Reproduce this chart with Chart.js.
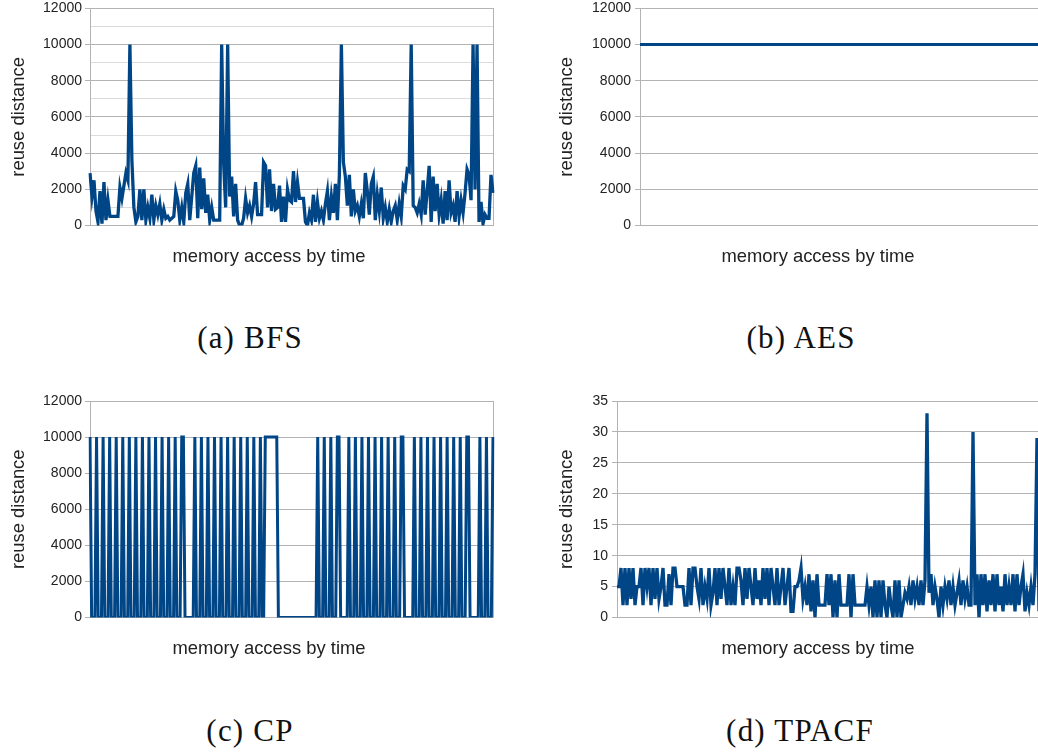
<!DOCTYPE html>
<html>
<head>
<meta charset="utf-8">
<script src="https://cdn.jsdelivr.net/npm/chart.js@4/dist/chart.umd.min.js"></script>
<style>
  html, body { margin: 0; padding: 0; background: #fff; overflow: hidden; width: 1038px; height: 753px; }
  canvas { position: absolute; }
  .caption {
    position: absolute; width: 300px; text-align: center;
    font-family: 'Liberation Serif', serif; font-size: 31px; letter-spacing: 1.2px;
    line-height: 36px; color: #111;
  }
</style>
</head>
<body>
<canvas id="bfs" width="538" height="280" style="left:0;top:0"></canvas>
<canvas id="aes" width="556" height="280" style="left:540px;top:0"></canvas>
<canvas id="cp" width="538" height="280" style="left:0;top:392px"></canvas>
<canvas id="tpacf" width="556" height="280" style="left:540px;top:392px"></canvas>
<div class="caption" style="left:100px;top:320px">(a) BFS</div>
<div class="caption" style="left:651px;top:320px">(b) AES</div>
<div class="caption" style="left:100px;top:713px">(c) CP</div>
<div class="caption" style="left:650px;top:713px">(d) TPACF</div>
<script>
// reuse distance per memory access
const bfsValues = [
  2900, 1600, 2500, 800, 200, 1900, 100, 2400, 300, 1400,
  500, 500, 500, 500, 500, 2100, 1500, 2200, 2900, 2500,
  10000, 3600, 1000, 200, 500, 2000, 300, 2000, 300, 1000,
  400, 1700, 300, 1100, 600, 1200, 300, 900, 400, 500,
  300, 400, 500, 1900, 1400, 300, 1000, 200, 1800, 2300,
  300, 1600, 2900, 3300, 400, 3200, 900, 2600, 700, 1700,
  300, 1000, 300, 300, 300, 300, 10000, 3400, 1000, 10000,
  1600, 2700, 500, 2300, 300, 0, 0, 400, 1500, 700,
  1100, 500, 1200, 2400, 600, 600, 600, 3500, 3300, 1000,
  3100, 800, 2300, 900, 1000, 2200, 200, 1600, 200, 2000,
  1400, 1300, 3000, 1300, 2400, 1500, 1500, 1500, 200, 0,
  700, 300, 1700, 200, 1300, 400, 800, 300, 1200, 1900,
  300, 1600, 700, 2300, 300, 2800, 10000, 3500, 2700, 1100,
  2800, 500, 2000, 800, 1100, 500, 1200, 400, 2900, 1900,
  600, 2300, 2700, 300, 1700, 800, 2100, 400, 1000, 200,
  900, 200, 800, 1100, 300, 1200, 500, 2200, 2000, 3100,
  3000, 10000, 1100, 1000, 700, 1200, 600, 2500, 600, 1900,
  3300, 200, 2700, 800, 2300, 600, 1400, 100, 1900, 300,
  2500, 700, 1100, 200, 1900, 500, 1400, 700, 1800, 3100,
  2800, 1400, 10000, 2000, 10000, 200, 1300, 100, 600, 400,
  400, 2800, 1800
];

const aesValues = [
  10000, 10000, 10000, 10000, 10000, 10000, 10000, 10000,
  10000, 10000, 10000, 10000, 10000, 10000, 10000, 10000,
  10000, 10000, 10000, 10000, 10000, 10000, 10000, 10000
];

const cpValues = [
  10000, 0, 0, 0, 10000, 0, 0, 0, 10000, 0, 0, 0, 10000, 0, 0, 0,
  10000, 0, 0, 0, 10000, 0, 0, 0, 10000, 0, 0, 0, 10000, 0, 0, 0,
  10000, 0, 0, 0, 10000, 0, 0, 0, 10000, 0, 0, 0, 10000, 0, 0, 0,
  10000, 0, 0, 0, 10000, 0, 0, 0,
  10000, 10000, 0, 0, 0, 0, 0, 0,
  10000, 0, 0, 0, 10000, 0, 0, 0, 10000, 0, 0, 0, 10000, 0, 0, 0,
  10000, 0, 0, 0, 10000, 0, 0, 0, 10000, 0, 0, 0, 10000, 0, 0, 0,
  10000, 0, 0, 0, 10000, 0, 0, 0,
  10000, 0, 0,
  10000, 10000, 10000, 10000, 10000, 10000, 10000, 10000,
  0, 0, 0, 0, 0, 0, 0, 0, 0, 0, 0, 0,
  0, 0, 0, 0, 0, 0, 0, 0, 0, 0, 0, 0,
  10000, 0, 0, 0, 10000, 0, 0, 0, 10000, 0, 0, 0,
  10000, 10000, 0, 0, 0, 0, 0,
  10000, 0, 0, 0, 10000, 0, 0, 0, 10000, 0, 0, 0, 10000, 0, 0, 0,
  10000, 0, 0, 0, 10000, 0, 0, 0, 10000, 0, 0, 0, 10000, 0, 0, 0,
  10000, 10000, 0, 0, 0, 0, 0, 0,
  10000, 0, 0, 0, 10000, 0, 0, 0, 10000, 0, 0, 0, 10000, 0, 0, 0,
  10000, 0, 0, 0, 10000, 0, 0, 0, 10000, 0, 0, 0, 10000, 0, 0, 0,
  10000, 10000, 0, 0, 0, 0, 0, 0,
  10000, 0, 0, 0, 10000, 0, 0, 0, 10000
];

const tpacfValues = [
  5, 5, 8, 2, 8, 2, 8, 3, 8, 2,
  5, 5, 8, 2, 8, 5, 8, 2, 8, 3,
  8, 3, 5, 8, 2, 2, 7, 2, 8, 8,
  5, 5, 5, 5, 2, 2, 8, 2, 8, 8,
  5, 3, 8, 2, 5, 3, 8, 2, 4, 8,
  2, 8, 3, 8, 5, 2, 8, 2, 5, 2,
  8, 8, 6, 2, 8, 3, 8, 5, 2, 8,
  3, 6, 2, 8, 3, 8, 2, 8, 5, 2,
  8, 2, 5, 8, 2, 5, 8, 1, 1, 5,
  5, 6, 8, 3, 5, 2, 7, 1, 6, 0,
  7, 2, 2, 2, 2, 7, 2, 7, 0, 6,
  0, 7, 2, 2, 2, 2, 7, 0, 7, 2,
  2, 2, 2, 2, 2, 5, 2, 5, 0, 6,
  0, 6, 0, 6, 2, 0, 5, 2, 0, 6,
  0, 6, 0, 2, 4, 3, 5, 2, 6, 3,
  5, 2, 6, 2, 6, 33, 4, 7, 2, 5,
  3, 0, 5, 2, 5, 3, 6, 2, 5, 2,
  4, 6, 2, 6, 3, 5, 2, 2, 30, 2,
  7, 0, 7, 2, 7, 1, 6, 2, 7, 1,
  7, 2, 5, 1, 7, 2, 5, 2, 7, 1,
  7, 2, 5, 7, 1, 4, 2, 5, 2, 7,
  29, 1
];

const LINE = '#004586';
const GRID = '#b3b3b3';
const MINOR = '#dcdcdc';
const TEXT = '#222222';
const TITLE_SIZE = 18.4;

Chart.defaults.font.family = "'Liberation Sans', Arial, sans-serif";

function makeChart(id, values, o) {
  return new Chart(document.getElementById(id), {
    type: 'line',
    data: {
      labels: values.map((v, i) => i),
      datasets: [{
        data: values,
        borderColor: LINE,
        borderWidth: o.lineWidth,
        pointRadius: 0,
        tension: 0,
        fill: false
      }]
    },
    options: {
      responsive: false,
      animation: false,
      devicePixelRatio: 1,
      layout: { padding: { top: o.top, bottom: 12.4, left: 0, right: 0 } },
      plugins: {
        legend: { display: false },
        tooltip: { enabled: false },
        title: {
          display: true,
          position: 'bottom',
          text: 'memory access by time',
          color: TEXT,
          font: { size: TITLE_SIZE, weight: 'normal' },
          padding: 0
        }
      },
      scales: {
        x: {
          ticks: { display: false },
          grid: { display: false },
          border: { color: GRID },
          afterFit: (s) => { s.height = 20; }
        },
        y: {
          min: 0,
          max: o.max,
          ticks: {
            stepSize: o.step,
            autoSkip: false,
            maxTicksLimit: 40,
            padding: o.labelPad,
            color: TEXT,
            font: { size: 14 },
            callback: (v) => (v % o.labelStep === 0 ? String(v) : '')
          },
          grid: {
            color: (ctx) => (ctx.tick && ctx.tick.value % o.labelStep !== 0 ? MINOR : GRID),
            tickColor: (ctx) => (ctx.tick && ctx.tick.value % o.labelStep !== 0 ? 'rgba(0,0,0,0)' : GRID),
            tickLength: 5
          },
          border: { color: GRID },
          title: {
            display: true,
            text: 'reuse distance',
            color: TEXT,
            font: { size: TITLE_SIZE },
            padding: { top: o.titlePad, bottom: 0 }
          },
          afterFit: (s) => {
            s.width = o.leftWidth;
            s.paddingTop = 0;
            s.paddingBottom = 0;
          }
        },
        yr: {
          position: 'right',
          ticks: { display: false },
          grid: { drawOnChartArea: false, drawTicks: false },
          border: { display: o.rightBorder, color: GRID },
          afterFit: (s) => {
            s.width = o.rightWidth;
            s.paddingTop = 0;
            s.paddingBottom = 0;
          }
        }
      }
    }
  });
}

makeChart('bfs', bfsValues, {
  lineWidth: 3.3, top: 8.3, max: 12000, step: 1000, labelStep: 2000, labelPad: 3,
  titlePad: 8, leftWidth: 90, rightWidth: 45, rightBorder: true
});
makeChart('aes', aesValues, {
  lineWidth: 3, top: 8.3, max: 12000, step: 2000, labelStep: 2000, labelPad: 4,
  titlePad: 16, leftWidth: 100, rightWidth: 56, rightBorder: false
});
makeChart('cp', cpValues, {
  lineWidth: 3, top: 9, max: 12000, step: 2000, labelStep: 2000, labelPad: 3,
  titlePad: 8, leftWidth: 90, rightWidth: 45, rightBorder: true
});
makeChart('tpacf', tpacfValues, {
  lineWidth: 3.3, top: 9, max: 35, step: 5, labelStep: 5, labelPad: 4,
  titlePad: 16, leftWidth: 77, rightWidth: 57, rightBorder: false
});
</script>
</body>
</html>
